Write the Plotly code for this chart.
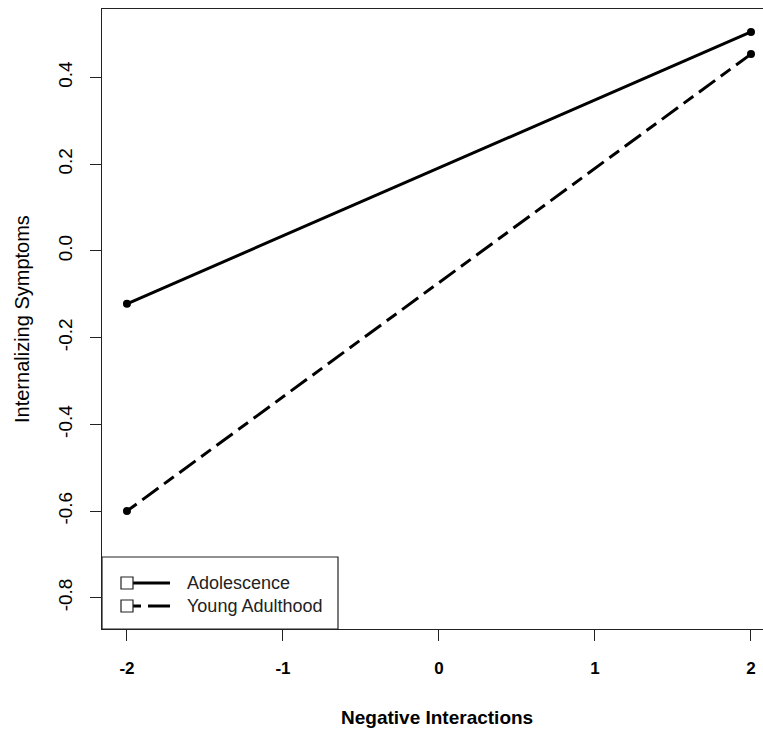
import plotly.graph_objects as go

# ---- data ----
x_levels = [-2, 2]
adolescence = [-0.122, 0.505]
young_adulthood = [-0.600, 0.454]
series_names = ["Adolescence", "Young Adulthood"]
x_tick_vals = [-2, -1, 0, 1, 2]
x_tick_text = ["-2", "-1", "0", "1", "2"]
y_tick_vals = [-0.8, -0.6, -0.4, -0.2, 0.0, 0.2, 0.4]
y_tick_text = ["-0.8", "-0.6", "-0.4", "-0.2", "0.0", "0.2", "0.4"]

W, H = 763, 731
ML, MT, MB, MR = 102, 9, 102, 0
PW, PH = W - ML - MR, H - MT - MB


def px(xp):
    return (xp - ML) / PW


def py(yp):
    return (H - MB - yp) / PH


FONT = "Liberation Sans, Arial, sans-serif"

fig = go.Figure()
fig.add_trace(go.Scatter(x=x_levels, y=adolescence, mode="lines+markers",
                         name=series_names[0],
                         line=dict(color="black", width=3),
                         marker=dict(color="black", size=8, symbol="circle"),
                         showlegend=False))
fig.add_trace(go.Scatter(x=x_levels, y=young_adulthood, mode="lines+markers",
                         name=series_names[1],
                         line=dict(color="black", width=3, dash="12px,7px,20px,7px"),
                         marker=dict(color="black", size=8, symbol="circle"),
                         showlegend=False))

# manual legend (R style)
shapes = []
shapes.append(dict(type="rect", xref="paper", yref="paper",
                   x0=px(102), x1=px(338), y0=py(629), y1=py(557),
                   line=dict(color="#222", width=1.2), fillcolor="white", layer="above"))
rows = [583, 606]
dashes = ["solid", "8px,7px,22px,7px"]
for yr, d in zip(rows, dashes):
    shapes.append(dict(type="line", xref="paper", yref="paper",
                       x0=px(133), x1=px(170), y0=py(yr), y1=py(yr),
                       line=dict(color="black", width=3, dash=d), layer="above"))
    shapes.append(dict(type="rect", xref="paper", yref="paper",
                       x0=px(121), x1=px(133), y0=py(yr + 6), y1=py(yr - 6),
                       line=dict(color="#222", width=1.2), fillcolor="white", layer="above"))

annotations = []
for yr, name in zip(rows, series_names):
    annotations.append(dict(x=px(185), y=py(yr), xref="paper", yref="paper",
                            text=name, showarrow=False, xanchor="left", yanchor="middle",
                            font=dict(family=FONT, size=18, color="#222")))
annotations.append(dict(x=px(437), y=py(717), xref="paper", yref="paper",
                        text="<b>Negative Interactions</b>", showarrow=False,
                        xanchor="center", yanchor="middle",
                        font=dict(family=FONT, size=19, color="black")))
annotations.append(dict(x=px(22), y=py(319), xref="paper", yref="paper",
                        text="Internalizing Symptoms", showarrow=False, textangle=-90,
                        xanchor="center", yanchor="middle",
                        font=dict(family=FONT, size=20, color="black")))

fig.update_layout(
    width=W, height=H,
    margin=dict(l=ML, r=MR, t=MT, b=MB, pad=0),
    plot_bgcolor="white", paper_bgcolor="white",
    shapes=shapes, annotations=annotations,
    xaxis=dict(range=[-2.16, 2.077], tickvals=x_tick_vals, ticktext=x_tick_text,
               showgrid=False, zeroline=False, showline=True, linecolor="#222",
               linewidth=1.2, mirror=True, ticks="outside", ticklen=11,
               tickcolor="#222", tickwidth=1.2, ticklabelstandoff=12,
               tickfont=dict(family=FONT, size=17, color="black", weight="bold")),
    yaxis=dict(range=[-0.872, 0.558], tickvals=y_tick_vals, ticktext=y_tick_text,
               showgrid=False, zeroline=False, showline=True, linecolor="#222",
               linewidth=1.2, mirror=False, ticks="outside", ticklen=11,
               tickcolor="#222", tickwidth=1.2, tickangle=-90, ticklabelstandoff=10,
               tickfont=dict(family=FONT, size=19, color="black")),
)

fig.write_html("out.html", config={"displayModeBar": False},
               post_script="document.body.style.margin='0';document.body.style.overflow='hidden';")
